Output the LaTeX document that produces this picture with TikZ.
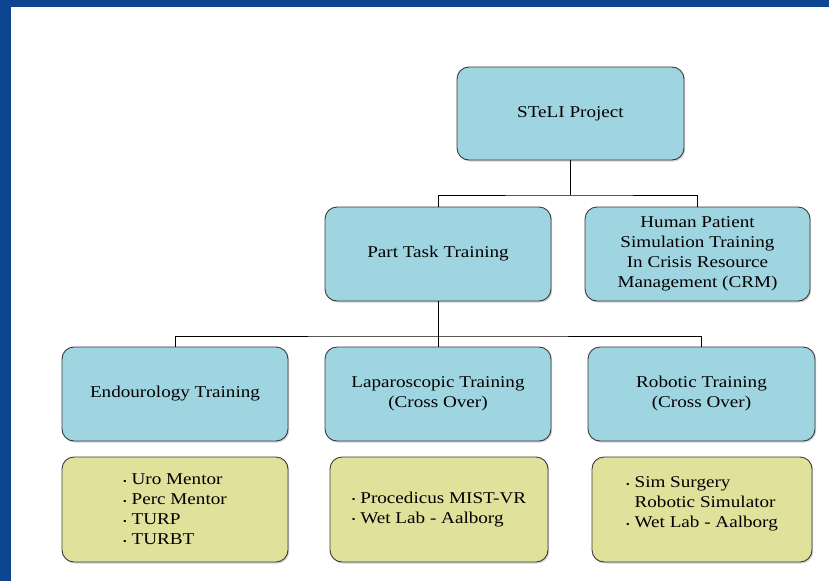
\documentclass[tikz,border=0pt]{standalone}
\usepackage{fontspec}
\setmainfont[FakeStretch=1.16]{Liberation Serif}
\usetikzlibrary{shadows}
\definecolor{bgblue}{HTML}{0D4590}
\definecolor{boxblue}{HTML}{9FD5E1}
\definecolor{boxgreen}{HTML}{E0E19B}
\definecolor{boxedge}{HTML}{3A3A3A}
\newcommand{\bul}{{\fontsize{9}{9}\selectfont\raisebox{0.2ex}{•}}\ }
\tikzset{
  basebox/.style={draw=boxedge, line width=0.9pt, rounded corners=12pt,
    minimum width=226pt, minimum height=94pt, align=center, inner sep=2pt,
    font=\fontsize{16.5}{20}\selectfont,
    drop shadow={shadow xshift=1.2pt, shadow yshift=-1.5pt, opacity=0.35}},
  bluebox/.style={basebox, fill=boxblue},
  greenbox/.style={basebox, fill=boxgreen, minimum height=105pt, align=left},
  conn/.style={draw=black, line width=1pt}
}
\begin{document}
\begin{tikzpicture}[x=1pt, y=-1pt]
  \useasboundingbox (0,0) rectangle (829,581);
  \fill[bgblue] (0,0) rectangle (829,581);
  \fill[white] (11,7) rectangle (829,581);

  \node[bluebox, minimum width=227pt, minimum height=93pt] (stel) at (570.5,113.5) {STeLI Project};
  \node[bluebox] (pt) at (438,254) {Part Task Training};
  \node[bluebox, minimum width=225pt] (hp) at (697.5,254) {Human Patient\\Simulation Training\\In Crisis Resource\\Management (CRM)};
  \node[bluebox] (endo) at (175,394) {Endourology Training};
  \node[bluebox] (lap) at (438,394) {Laparoscopic Training\\(Cross Over)};
  \node[bluebox, minimum width=227pt] (rob) at (701.5,394) {Robotic Training\\(Cross Over)};

  \node[greenbox] (g1) at (175,509.5) {\bul Uro Mentor\\\bul Perc Mentor\\\bul TURP\\\bul TURBT};
  \node[greenbox, minimum width=218pt] (g2) at (439,509.5) {\bul Procedicus MIST-VR\\\bul Wet Lab - Aalborg};
  \node[greenbox, minimum width=220pt] (g3) at (702,509.5) {\bul Sim Surgery\\\phantom{\bul}Robotic Simulator\\\bul Wet Lab - Aalborg\\[-6pt]};

  \coordinate (j1) at (570.5,195);
  \coordinate (j2) at (438,336);
  \draw[conn] (stel.south) -- (j1);
  \draw[conn] (pt.north) |- (j1) -| (hp.north);
  \draw[conn] (pt.south) -- (lap.north);
  \draw[conn] (endo.north) |- (j2) -| (rob.north);
\end{tikzpicture}
\end{document}
